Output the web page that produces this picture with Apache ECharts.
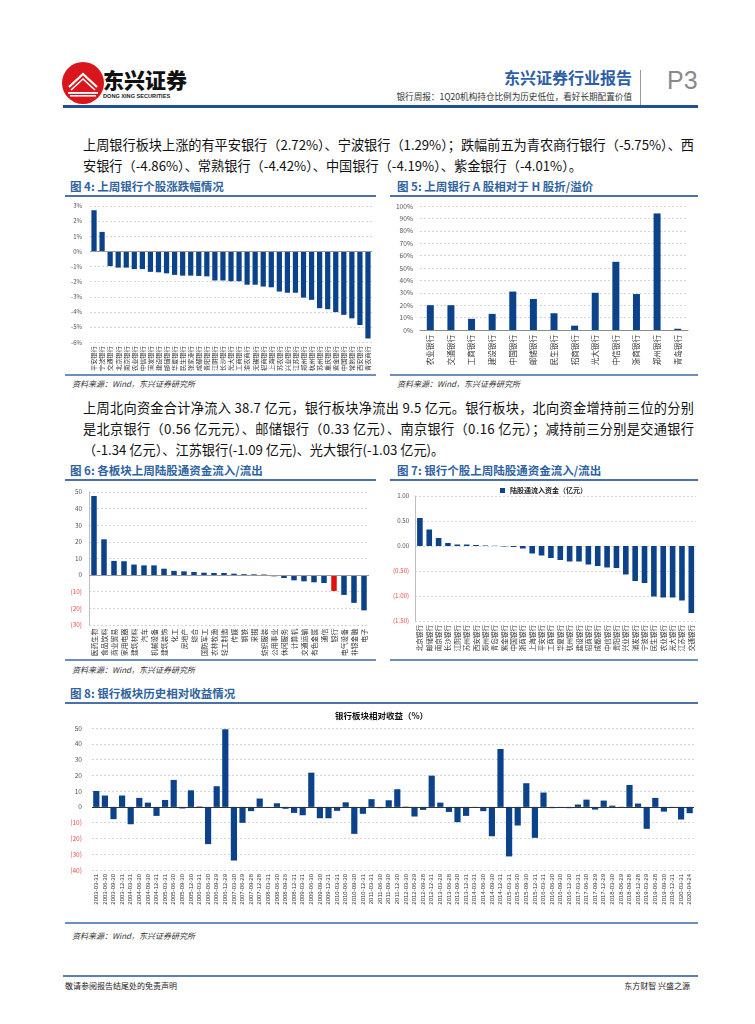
<!DOCTYPE html>
<html><head><meta charset="utf-8">
<script src="https://cdn.jsdelivr.net/npm/echarts@6/dist/echarts.min.js"></script>
<style>
html,body{margin:0;padding:0;background:#fff;}
body{width:755px;height:1024px;position:relative;overflow:hidden;font-family:"Noto Sans CJK SC","Noto Sans",sans-serif;color:#111;}
.abs{position:absolute;}
.hline{position:absolute;height:2px;background:#4a72a8;}
.ftitle{position:absolute;font-size:11.5px;font-weight:bold;color:#2f63a0;white-space:nowrap;line-height:14px;}
.src{position:absolute;font-size:8px;font-style:italic;color:#333;white-space:nowrap;}
.para{position:absolute;left:83px;width:611px;font-size:13.2px;line-height:21px;color:#111;}
.para div{white-space:nowrap;}
.para span.j{display:inline-block;white-space:nowrap;}
.chart{position:absolute;}
</style></head>
<body>
<!-- header -->
<svg class="abs" style="left:61px;top:61px" width="44" height="44" viewBox="0 0 44 44">
  <circle cx="22" cy="22" r="21" fill="#d9161c"/>
  <path d="M8 26 L22 13 L36 26" stroke="#fff" stroke-width="2.2" fill="none"/>
  <path d="M10 29 L22 18 L34 29" stroke="#fff" stroke-width="1.6" fill="none"/>
  <rect x="7" y="31" width="30" height="1.8" fill="#fff"/>
  <rect x="9" y="34" width="26" height="1.6" fill="#fff"/>
</svg>
<div class="abs" style="left:103px;top:66px;font-size:21px;font-weight:900;color:#111;line-height:26px;">东兴证券</div>
<div class="abs" style="left:103px;top:92px;font-size:5.6px;font-weight:bold;color:#222;line-height:8px;font-family:'Liberation Sans',sans-serif;">DONG XING SECURITIES</div>
<div class="abs" style="right:123px;top:66px;font-size:16px;font-weight:bold;color:#2d5ea8;line-height:22px;">东兴证券行业报告</div>
<div class="abs" style="right:123px;top:90px;font-size:8.6px;color:#333;line-height:12px;white-space:nowrap;">银行周报：1Q20机构持仓比例为历史低位，看好长期配置价值</div>
<div class="abs" style="left:640px;top:70px;width:1px;height:36px;background:#999;"></div>
<div class="abs" style="left:667px;top:64px;font-size:25px;color:#8a8a8a;line-height:32px;font-family:'Liberation Sans',sans-serif;">P3</div>
<div class="abs" style="left:63px;top:105px;width:635px;height:3px;background:#1f4f8f;"></div>

<!-- paragraph 1 -->
<div class="para" style="top:134px;">
<div><span class="j">上周银行板块上涨的有平安银行（2.72%）、宁波银行（1.29%）；跌幅前五为青农商行银行（-5.75%）、西</span></div>
<div>安银行（-4.86%）、常熟银行（-4.42%）、中国银行（-4.19%）、紫金银行（-4.01%）。</div>
</div>

<div class="ftitle" style="left:70px;top:179px;">图 4: 上周银行个股涨跌幅情况</div>
<div class="hline" style="left:65px;top:195px;width:311px;"></div>
<div class="ftitle" style="left:397px;top:179px;">图 5: 上周银行 A 股相对于 H 股折/溢价</div>
<div class="hline" style="left:390px;top:195px;width:308px;"></div>
<div id="c4" class="chart" style="left:65px;top:197px;width:311px;height:177px;"></div>
<div id="c5" class="chart" style="left:390px;top:197px;width:308px;height:177px;"></div>
<div class="hline" style="left:65px;top:374px;width:311px;background:#6c8fc0;"></div>
<div class="hline" style="left:390px;top:374px;width:308px;background:#6c8fc0;"></div>
<div class="src" style="left:72px;top:378px;">资料来源：Wind，东兴证券研究所</div>
<div class="src" style="left:397px;top:378px;">资料来源：Wind，东兴证券研究所</div>

<!-- paragraph 2 -->
<div class="para" style="top:397px;">
<div><span class="j">上周北向资金合计净流入 38.7 亿元，银行板块净流出 9.5 亿元。银行板块，北向资金增持前三位的分别</span></div>
<div><span class="j">是北京银行（0.56 亿元元）、邮储银行（0.33 亿元）、南京银行（0.16 亿元）；减持前三分别是交通银行</span></div>
<div>（-1.34 亿元）、江苏银行(-1.09 亿元)、光大银行(-1.03 亿元)。</div>
</div>

<div class="ftitle" style="left:70px;top:463px;">图 6: 各板块上周陆股通资金流入/流出</div>
<div class="hline" style="left:65px;top:479px;width:311px;"></div>
<div class="ftitle" style="left:397px;top:463px;">图 7: 银行个股上周陆股通资金流入/流出</div>
<div class="hline" style="left:390px;top:479px;width:308px;"></div>
<div id="c6" class="chart" style="left:65px;top:481px;width:311px;height:178px;"></div>
<div id="c7" class="chart" style="left:390px;top:481px;width:308px;height:178px;"></div>
<div class="hline" style="left:65px;top:659px;width:311px;background:#6c8fc0;"></div>
<div class="hline" style="left:390px;top:659px;width:308px;background:#6c8fc0;"></div>
<div class="src" style="left:72px;top:664px;">资料来源：Wind，东兴证券研究所</div>

<div class="ftitle" style="left:70px;top:686px;">图 8: 银行板块历史相对收益情况</div>
<div class="hline" style="left:65px;top:702px;width:633px;"></div>
<div id="c8" class="chart" style="left:65px;top:704px;width:633px;height:218px;"></div>
<div class="hline" style="left:65px;top:922px;width:633px;background:#6c8fc0;"></div>
<div class="src" style="left:72px;top:930px;">资料来源：Wind，东兴证券研究所</div>

<!-- footer -->
<div class="abs" style="left:63px;top:975px;width:635px;height:2px;background:#5d7fae;"></div>
<div class="abs" style="left:65px;top:980px;font-size:8px;color:#222;line-height:12px;">敬请参阅报告结尾处的免责声明</div>
<div class="abs" style="right:65px;top:980px;font-size:8px;color:#222;line-height:12px;">东方财智 兴盛之源</div>

<script>
// stretch full paragraph lines to the text width
(function(){
  var spans = document.querySelectorAll('.para span.j');
  for (var i = 0; i < spans.length; i++) {
    var s = spans[i];
    var n = s.textContent.length;
    var w = s.getBoundingClientRect().width;
    var ls = (611 - w) / (n - 1);
    s.style.letterSpacing = ls + 'px';
    s.style.marginRight = (-ls) + 'px';
  }
})();

// ---------- data ----------
var c4Banks = ['平安银行','宁波银行','交通银行','北京银行','南京银行','农业银行','中信银行','浦发银行','建设银行','邮储银行','华夏银行','民生银行','张家港行','成都银行','贵阳银行','江阴银行','长沙银行','光大银行','工商银行','渝农商行','无锡银行','招商银行','上海银行','苏农银行','兴业银行','江苏银行','郑州银行','杭州银行','苏州银行','重庆银行','紫金银行','中国银行','常熟银行','西安银行','青农商行'];
var c4Values = [2.72,1.29,-0.97,-1.07,-1.07,-1.17,-1.17,-1.35,-1.38,-1.45,-1.55,-1.6,-1.6,-1.62,-1.65,-1.92,-1.92,-1.97,-1.97,-2.2,-2.2,-2.32,-2.37,-2.65,-2.73,-2.73,-3.05,-3.2,-3.75,-3.82,-4.01,-4.19,-4.42,-4.86,-5.75];

var c5Banks = ['农业银行','交通银行','工商银行','建设银行','中国银行','邮储银行','民生银行','招商银行','光大银行','中信银行','浙商银行','郑州银行','青岛银行'];
var c5Premium = [20,20,9,13,31,25,13.5,3.5,30,55,29,94,1];

var c6Sectors = ['医药生物','食品饮料','商业贸易','家用电器','建筑材料','汽车','机械设备','建筑装饰','化工','房地产','综合','国防军工','农林牧渔','轻工制造','传媒','钢铁','采掘','纺织服装','公用事业','休闲服务','计算机','交通运输','有色金属','通信','银行','电气设备','非银金融','电子'];
var c6Flows = [47.6,21.5,8.5,8.3,6.3,5.8,5.8,3.8,2.5,2.2,1.8,1.4,1.2,1.2,0.8,0.5,0.4,0.3,-0.8,-1.8,-3.2,-3.8,-4.4,-4.8,-9.6,-12,-16.8,-21.3];

var c7Banks = ['北京银行','邮储银行','南京银行','长沙银行','江阴银行','苏州银行','西安银行','郑州银行','青岛银行','紫金银行','中国银行','浙商银行','上海银行','平安银行','工商银行','华夏银行','杭州银行','建设银行','招商银行','成都银行','中信银行','贵阳银行','兴业银行','浦发银行','宁波银行','民生银行','农业银行','光大银行','江苏银行','交通银行'];
var c7Flows = [0.56,0.33,0.16,0.06,0.03,0.03,0.02,0.01,0.005,-0.01,-0.02,-0.05,-0.15,-0.19,-0.24,-0.28,-0.31,-0.31,-0.37,-0.40,-0.43,-0.44,-0.57,-0.70,-0.74,-1.01,-1.03,-1.03,-1.09,-1.34];

var c8Dates = ['2003-03-31','2003-06-30','2003-09-30','2003-12-31','2004-03-31','2004-06-30','2004-09-30','2004-12-31','2005-03-31','2005-06-30','2005-09-30','2005-12-30','2006-03-31','2006-06-30','2006-09-29','2006-12-29','2007-03-30','2007-06-29','2007-09-28','2007-12-28','2008-03-31','2008-06-30','2008-09-26','2008-12-31','2009-03-31','2009-06-30','2009-09-30','2009-12-31','2010-03-31','2010-06-30','2010-09-30','2010-12-31','2011-03-31','2011-06-30','2011-09-30','2011-12-30','2012-03-30','2012-06-29','2012-09-28','2012-12-31','2013-03-29','2013-06-28','2013-09-30','2013-12-31','2014-03-31','2014-06-30','2014-09-30','2014-12-31','2015-03-31','2015-06-30','2015-09-30','2015-12-31','2016-03-31','2016-06-30','2016-09-30','2016-12-30','2017-03-31','2017-06-30','2017-09-29','2017-12-29','2018-03-30','2018-06-29','2018-09-28','2018-12-28','2019-03-29','2019-06-28','2019-09-30','2019-12-31','2020-03-31','2020-04-24'];
var c8Returns = [10.1,7.2,-7.8,7.2,-11,5.7,2.7,-5.7,4.4,17.1,-1,10.5,0.3,-23.6,13.1,49.2,-34,-10.1,-2.7,5.3,-0.5,2.3,-1.2,-3.8,-5.3,21.7,-7.2,-7.2,-2.5,2.9,-17.1,-4.4,4.9,-0.8,4.2,11.2,0.2,-6.1,-1.9,19.8,2.7,-3.2,-9.7,-5.7,-0.3,-2.7,-18.6,36.7,-31.4,-11.8,15,-19.6,9.1,-0.8,-0.2,-0.8,1.5,4.6,-1.7,4,0.8,0.1,13.9,2.1,-13.9,5.7,-3,-0.2,-8,-4];

// ---------- helpers ----------
var BLUE = '#0b4289';
var RED_LBL = '#f04848';
var FONT = '"Noto Sans CJK SC", "Noto Sans", sans-serif';
var gridLine = {show:true, lineStyle:{color:'#d4d4d4', type:[2,2], width:1}};
function negFmt(dec){
  return function(v){
    var s = dec ? Math.abs(v).toFixed(dec) : String(Math.abs(v));
    return v < 0 ? '{n|(' + s + ')}' : '{p|' + (dec ? v.toFixed(dec) : v) + '}';
  };
}
function richLbl(fs){ return {n:{color:RED_LBL,fontSize:fs,fontFamily:FONT}, p:{color:'#555',fontSize:fs,fontFamily:FONT}}; }
function zeroLine(){ return {silent:true, symbol:'none', label:{show:false}, lineStyle:{color:'#9a9a9a', type:'solid', width:1}, data:[{yAxis:0}]}; }

// ---------- chart 4 ----------
echarts.init(document.getElementById('c4')).setOption({
  animation:false,
  textStyle:{fontFamily:FONT},
  grid:{left:25, right:4, top:9, bottom:31},
  xAxis:{type:'category', data:c4Banks, axisLine:{show:false}, axisTick:{show:false},
    axisLabel:{interval:0, rotate:90, fontSize:6.2, color:'#333', margin:4, fontFamily:FONT}},
  yAxis:{type:'value', min:-6, max:3, interval:1, axisLine:{show:false}, axisTick:{show:false},
    splitLine:gridLine, axisLabel:{fontSize:6, color:'#555', margin:8, formatter:function(v){return v+'%';}}},
  series:[{type:'bar', data:c4Values, barCategoryGap:'35%', itemStyle:{color:BLUE}, markLine:zeroLine()}]
});

// ---------- chart 5 ----------
echarts.init(document.getElementById('c5')).setOption({
  animation:false,
  textStyle:{fontFamily:FONT},
  grid:{left:30, right:10, top:9, bottom:44},
  xAxis:{type:'category', data:c5Banks, axisLine:{show:true, lineStyle:{color:'#8c8c8c'}}, axisTick:{show:false},
    axisLabel:{interval:0, rotate:90, fontSize:7.6, color:'#333', margin:5, fontFamily:FONT}},
  yAxis:{type:'value', min:0, max:100, interval:10, axisLine:{show:false}, axisTick:{show:false},
    splitLine:gridLine, axisLabel:{fontSize:6.6, color:'#555', margin:7, formatter:function(v){return v+'%';}}},
  series:[{type:'bar', data:c5Premium, barWidth:7, itemStyle:{color:BLUE}}]
});

// ---------- chart 6 ----------
echarts.init(document.getElementById('c6')).setOption({
  animation:false,
  textStyle:{fontFamily:FONT},
  grid:{left:24, right:7, top:11, bottom:33},
  xAxis:{type:'category', data:c6Sectors, axisLine:{show:false}, axisTick:{show:false},
    axisLabel:{interval:0, rotate:90, fontSize:6.8, color:'#333', margin:4, fontFamily:FONT}},
  yAxis:{type:'value', min:-30, max:50, interval:10, axisLine:{show:true, lineStyle:{color:'#bfbfbf'}}, axisTick:{show:false},
    splitLine:gridLine, axisLabel:{fontSize:6.4, margin:7, formatter:negFmt(0), rich:richLbl(6.4)}},
  series:[{type:'bar', barCategoryGap:'45%', itemStyle:{color:BLUE}, markLine:zeroLine(),
    data:c6Flows.map(function(v,i){ return c6Sectors[i]==='银行' ? {value:v, itemStyle:{color:'#e01010'}} : v; })}]
});

// ---------- chart 7 ----------
echarts.init(document.getElementById('c7')).setOption({
  animation:false,
  textStyle:{fontFamily:FONT},
  legend:{show:true, left:105, top:1, itemWidth:5, itemHeight:5, icon:'rect', textStyle:{fontSize:7, fontWeight:'bold', color:'#222'}, data:['陆股通流入资金（亿元）']},
  grid:{left:21, right:2, top:15, bottom:38},
  xAxis:{type:'category', data:c7Banks, axisLine:{show:false}, axisTick:{show:false},
    axisLabel:{interval:0, rotate:90, fontSize:6.6, color:'#333', margin:4, fontFamily:FONT}},
  yAxis:{type:'value', min:-1.5, max:1, interval:0.5, axisLine:{show:true, lineStyle:{color:'#bfbfbf'}}, axisTick:{show:false},
    splitLine:gridLine, axisLabel:{fontSize:6.2, margin:6, formatter:negFmt(2), rich:richLbl(6.2)}},
  series:[{name:'陆股通流入资金（亿元）', type:'bar', data:c7Flows, barCategoryGap:'40%', itemStyle:{color:BLUE}}]
});

// ---------- chart 8 ----------
echarts.init(document.getElementById('c8')).setOption({
  animation:false,
  textStyle:{fontFamily:FONT},
  title:{text:'银行板块相对收益（%）', left:'center', top:3, textStyle:{fontSize:8.5, fontWeight:'bold', color:'#111', fontFamily:FONT}},
  grid:{left:27, right:4, top:24, bottom:52},
  xAxis:{type:'category', data:c8Dates, axisLine:{show:false}, axisTick:{show:false},
    axisLabel:{interval:0, rotate:90, fontSize:6, color:'#333', margin:4, fontFamily:'"Liberation Sans", sans-serif'}},
  yAxis:{type:'value', min:-40, max:50, interval:10, axisLine:{show:false}, axisTick:{show:false},
    splitLine:gridLine, axisLabel:{fontSize:6.6, margin:10, formatter:negFmt(0), rich:richLbl(6.6)}},
  series:[{type:'bar', data:c8Returns, barCategoryGap:'28%', itemStyle:{color:BLUE},
    markLine:{silent:true, symbol:'none', label:{show:false}, lineStyle:{color:'#333', type:'solid', width:1}, data:[{yAxis:0}]}}]
});
</script>
</body></html>
